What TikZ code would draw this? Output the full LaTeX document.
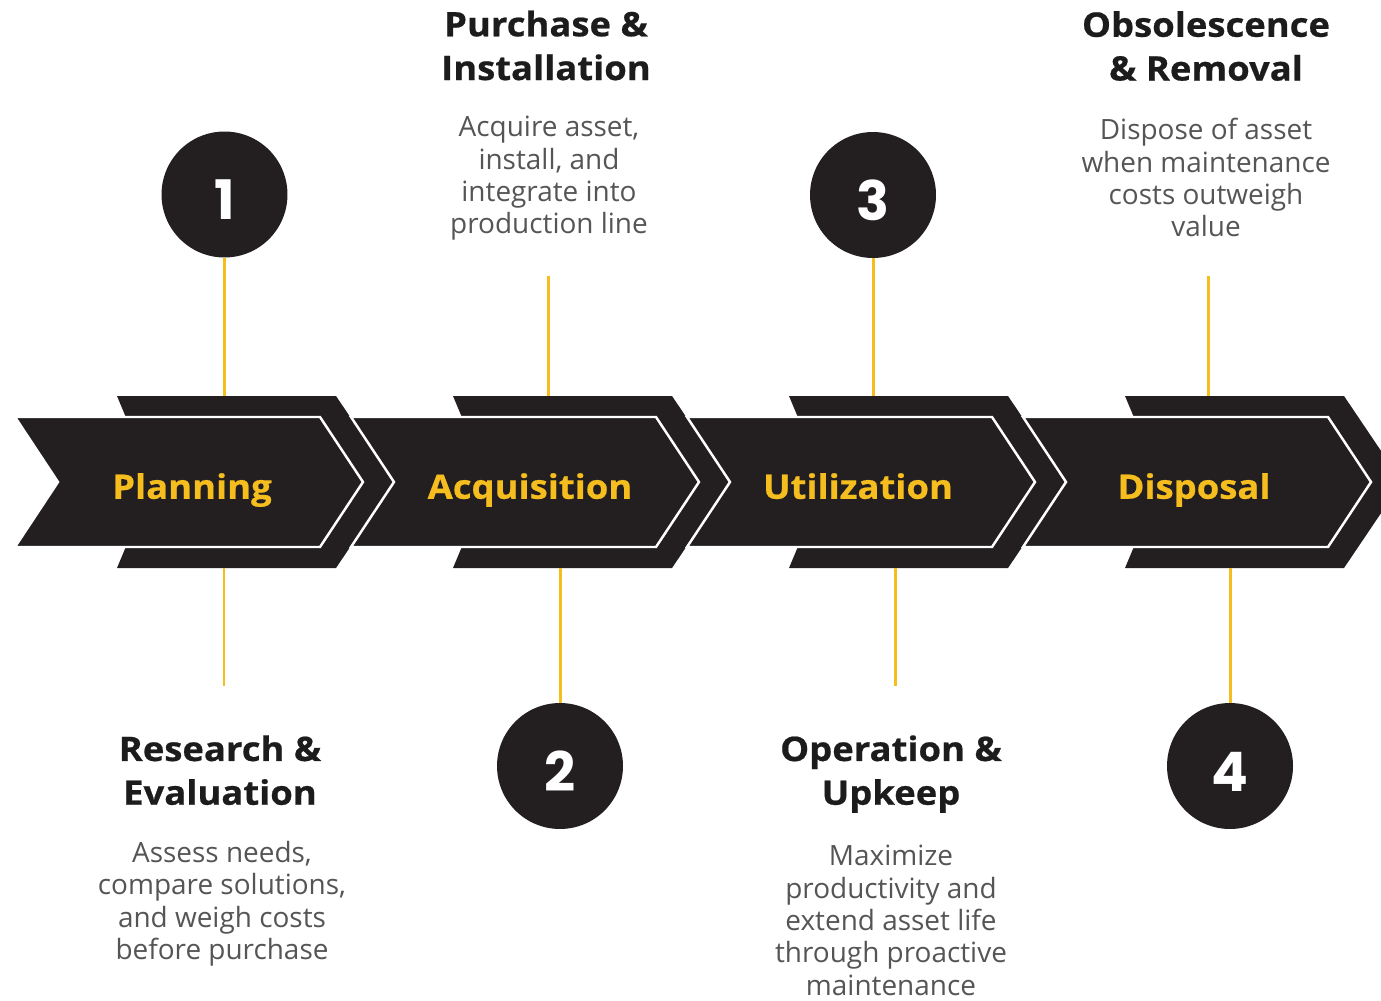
\documentclass[tikz,border=0pt]{standalone}
\usepackage{fontspec}
\setmainfont{Open Sans}
\newfontfamily\heavyfont{Open Sans}[FakeStretch=1.08, BoldFeatures={FakeBold=0.6}]
\newfontfamily\digitfont{Poppins}
\usetikzlibrary{positioning}
\definecolor{chevronblack}{HTML}{231F20}
\definecolor{signalyellow}{HTML}{F5BE1E}
\definecolor{bodygrey}{HTML}{555555}
\definecolor{headblack}{HTML}{1C1C1C}

\begin{document}
\begin{tikzpicture}[
        x=0.02cm, y=0.02cm,
        % plates behind each arrow, and the framed arrows in front
        backplate/.style={fill=chevronblack},
        frontarrow/.style={fill=chevronblack, draw=white, line width=1.4pt, line join=miter},
        stage/.style={text=signalyellow, inner sep=0pt,
            text height=14.6pt, text depth=4.6pt,
            font=\heavyfont\bfseries\fontsize{19.2}{22}\selectfont},
        % digits sit a little below the middle of the disc
        num/.style={circle, fill=chevronblack, minimum size=2.52cm, inner sep=0pt,
            text height=29pt, text depth=0pt,
            text=white, font=\digitfont\bfseries\fontsize{31}{32}\selectfont},
        heading/.style={align=center, anchor=north, inner sep=0pt, text=headblack,
            font=\heavyfont\bfseries\fontsize{19.2}{24.9}\selectfont},
        blurb/.style={align=center, anchor=north, inner sep=0pt, text=bodygrey,
            font=\fontsize{15.9}{18.4}\selectfont},
        link/.style={draw=signalyellow, line width=1.7pt}
    ]
    \useasboundingbox (0,0) rectangle (1381,-1000);
    \clip (0,0) rectangle (1381,-1000);

    % the four stages of the chevron band
    \foreach \i/\lbl/\dx in {0/Planning/0,1/Acquisition/2,2/Utilization/-6,3/Disposal/-6}{
        \begin{scope}[shift={(336*\i,0)}]
            \fill[backplate] (117,-396) -- (336,-396) -- (394,-482) -- (336,-568)
                -- (117,-568) -- (153,-482) -- cycle;
            \filldraw[frontarrow] (15,-417) -- (320,-417) -- (363,-482) -- (320,-547)
                -- (15,-547) -- (58,-482) -- cycle;
            \node[stage] (stage\i) at (192+\dx,-490) {\lbl};
        \end{scope}
    }

    % numbered discs
    \node[num] (num1) at (224.5,-194.5) {1};
    \node[num] (num2) at (560,-766) {2};
    \node[num] (num3) at (873,-195) {3};
    \node[num] (num4) at (1230,-766) {4};

    % step titles and descriptions
    \node[heading] (head1) at (220,-735) {Research \&\\Evaluation};
    \node[blurb] (text1) at (222,-841) {Assess needs,\\compare solutions,\\and weigh costs\\before purchase};
    \node[heading] (head2) at (546,-10.3) {Purchase \&\\Installation};
    \node[blurb] (text2) at (549,-116) {Acquire asset,\\install, and\\integrate into\\production line};
    \node[heading] (head3) at (891,-735) {Operation \&\\Upkeep};
    \node[blurb] (text3) at (891,-845) {Maximize\\productivity and\\extend asset life\\through proactive\\maintenance};
    \node[heading] (head4) at (1206,-10.8) {Obsolescence\\\& Removal};
    \node[blurb] (text4) at (1206,-118) {Dispose of asset\\when maintenance\\costs outweigh\\value};

    % ends of the yellow leaders on the band
    \coordinate (top1) at (224.5,-396);
    \coordinate (top2) at (548,-396);
    \coordinate (top3) at (873,-396);
    \coordinate (top4) at (1208,-396);
    \coordinate (bot1) at (224,-568);
    \coordinate (bot2) at (560,-568);
    \coordinate (bot3) at (895,-568);
    \coordinate (bot4) at (1230,-568);
    \coordinate (lead2) at (548,-276);
    \coordinate (lead4) at (1208,-276);
    \coordinate (end1) at (224,-686);
    \coordinate (end3) at (895,-686);

    % Connections
    \draw[link] (num1) -- (top1);
    \draw[link] (lead2) -- (top2);
    \draw[link] (num3) -- (top3);
    \draw[link] (lead4) -- (top4);
    \draw[link] (bot1) -- (end1);
    \draw[link] (bot2) -- (num2);
    \draw[link] (bot3) -- (end3);
    \draw[link] (bot4) -- (num4);
\end{tikzpicture}
\end{document}
